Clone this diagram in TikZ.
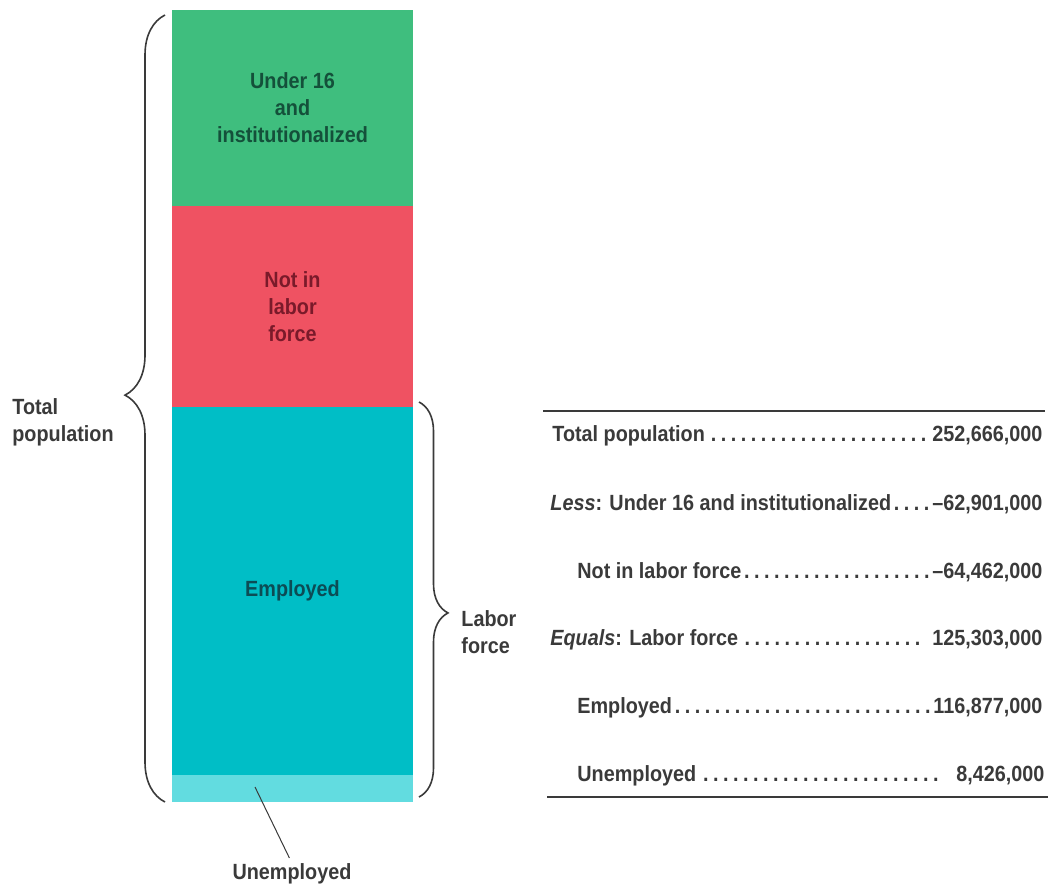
\documentclass[tikz,border=0pt]{standalone}
\usepackage{fontspec}
\setmainfont{Liberation Sans}[FakeStretch=0.9]
\usetikzlibrary{decorations.pathreplacing}
\definecolor{BarGreen}{HTML}{3FBE7E}
\definecolor{BarRed}{HTML}{EF5262}
\definecolor{BarCyan}{HTML}{00BEC6}
\definecolor{BarLight}{HTML}{62DCE0}
\definecolor{InkGreen}{HTML}{14503A}
\definecolor{InkRed}{HTML}{7A1A2A}
\definecolor{InkCyan}{HTML}{0C4C55}
\definecolor{InkGray}{HTML}{3A3A3A}
\newcommand{\dotlead}{\cleaders\hbox to 5pt{\hss.\hss}\hfill}

\begin{document}
\begin{tikzpicture}[x=0.5pt, y=-0.5pt,
    font=\fontsize{11}{13.5}\selectfont\bfseries,
    seg/.style={anchor=north west, minimum width=120.5pt, inner sep=0pt, outer sep=0pt, align=center},
    sidetext/.style={InkGray, align=left, inner sep=0pt},
    curly/.style n args={2}{decorate, decoration={brace, amplitude=#1, aspect=#2}, draw=InkGray, line width=0.8pt},
    tabrow/.style={anchor=west, inner sep=0pt, InkGray},
    rule/.style={draw=InkGray, line width=1.2pt}]
    \useasboundingbox (0,0) rectangle (1052,889);

    % Stacked bar
    \node[seg, fill=BarGreen, text=InkGreen, minimum height=98pt] (under) at (172,10) {Under 16\\and\\institutionalized};
    \node[seg, fill=BarRed, text=InkRed, minimum height=100.5pt] (notin) at (under.south west) {Not in\\labor\\force};
    \node[seg, fill=BarCyan, text=InkCyan, minimum height=184pt] (empl) at (notin.south west) {Employed};
    \node[seg, fill=BarLight, minimum height=13.5pt] (unempl) at (empl.south west) {};

    % Braces and their labels
    \draw[curly={20pt}{0.517}] (165,802) -- (165,15);
    \node[sidetext, anchor=west] (totpop) at (12,422) {Total\\population};
    \draw[curly={14.5pt}{0.534}] (419,402) -- (419,797);
    \node[sidetext, anchor=west] (labforce) at (461,632) {Labor\\force};

    % Unemployed pointer
    \node[sidetext] (unlabel) at (292,874) {Unemployed};
    \coordinate (unptr) at (255,787);
    \draw[InkGray, line width=0.5pt, shorten >=3pt] (unptr) -- (unlabel.north);

    % Table
    \draw[rule] (543,411) -- (1045,411);
    \node[tabrow] (totrow) at (552,436) {\hbox to 245pt{Total population\dotlead 252,666,000}};
    \node[tabrow] (lessrow) at (550,504) {\hbox to 246pt{\textit{Less}: Under 16 and institutionalized\dotlead --62,901,000}};
    \node[tabrow] (notinrow) at (577,572) {\hbox to 232.5pt{Not in labor force\dotlead --64,462,000}};
    \node[tabrow] (eqrow) at (550,640) {\hbox to 246pt{\textit{Equals}: Labor force\dotlead\ 125,303,000}};
    \node[tabrow] (emplrow) at (577,708) {\hbox to 232.5pt{Employed\dotlead 116,877,000}};
    \node[tabrow] (unemplrow) at (577,776) {\hbox to 233.5pt{Unemployed\dotlead\ \ 8,426,000}};
    \draw[rule] (547,797) -- (1048,797);
\end{tikzpicture}
\end{document}
